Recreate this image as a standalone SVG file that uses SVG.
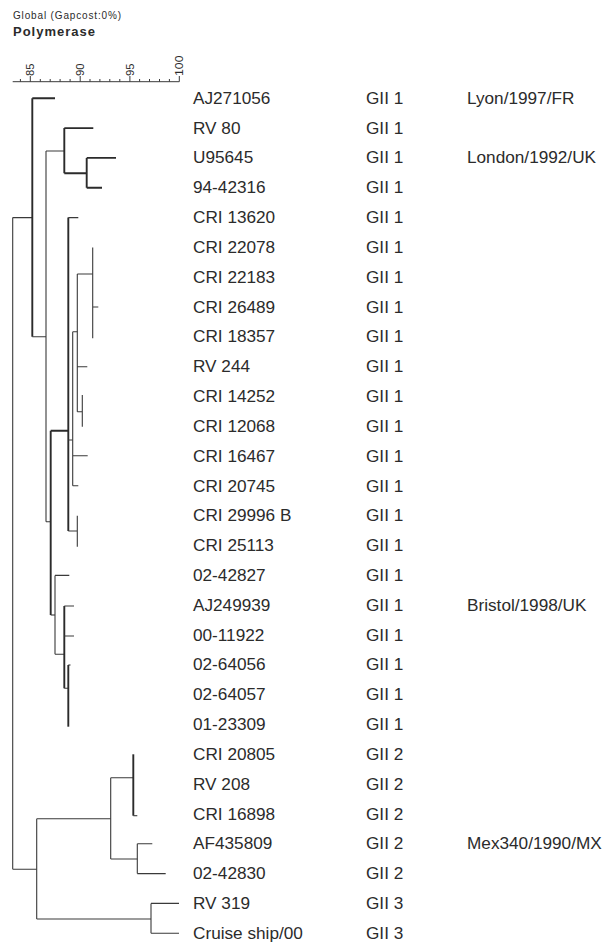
<svg xmlns="http://www.w3.org/2000/svg" width="610" height="946" viewBox="0 0 610 946">
<style>
text{font-family:"Liberation Sans",Arial,sans-serif;fill:#2b2b2b}
.lb{font-size:17.2px}
.hd{font-size:10px}
.ttl{font-size:13px;font-weight:bold}
.ax{font-size:10px}
.t{stroke:#2b2b2b;stroke-width:1.9;fill:none}
.n{stroke:#3a3a3a;stroke-width:1.1;fill:none}
.tk{stroke:#3a3a3a;stroke-width:1;fill:none}
</style>
<rect width="610" height="946" fill="#fff"/>
<g id="header">
<text class="hd" x="13" y="19" textLength="108" lengthAdjust="spacing">Global (Gapcost:0%)</text>
<text class="ttl" x="13" y="36" textLength="82" lengthAdjust="spacing">Polymerase</text>
</g>
<g id="scale">
<path class="tk" d="M12.7 81.7H179.3"/>
<path class="tk" d="M20.4 79V81.7M40.3 79V81.7M50.2 79V81.7M60.1 79V81.7M70.1 79V81.7M90 79V81.7M99.9 79V81.7M109.8 79V81.7M119.8 79V81.7M139.6 79V81.7M149.5 79V81.7M159.5 79V81.7M169.4 79V81.7"/>
<path class="tk" d="M30.3 76V81.7M80.2 76V81.7M129.9 76V81.7M179.3 76V81.7"/>
<text class="ax" transform="translate(34.2 76) rotate(-90)" textLength="12.5" lengthAdjust="spacingAndGlyphs">85</text>
<text class="ax" transform="translate(83.5 76) rotate(-90)" textLength="12.5" lengthAdjust="spacingAndGlyphs">90</text>
<text class="ax" transform="translate(133.5 76) rotate(-90)" textLength="12.5" lengthAdjust="spacingAndGlyphs">95</text>
<text class="ax" transform="translate(183.3 76) rotate(-90)" textLength="20.5" lengthAdjust="spacingAndGlyphs">100</text>
</g>
<g id="connectors">
<path class="n" d="M12.7 217.6V869.3M12.7 217.6H32.3M12.7 869.3H36.7"/>
<path class="t" d="M32.3 98.3V336.7M32.3 98.3H55"/>
<path class="n" d="M32.3 336.7H46M46 151V521.7M46 151H64.3M46 521.7H50.7"/>
<path class="t" d="M64.3 128.1V173.3M64.3 128.1H93.3M64.3 173.3H86.7M86.7 157.9V187.8M86.7 157.9H116M86.7 187.8H102"/>
<path class="t" d="M50.7 430.7V615M50.7 430.7H68.3M68.3 217.6V531"/>
<path class="n" d="M50.7 615H55"/>
<path class="n" d="M68.3 217.6H78.3M68.3 440H72.7M68.3 531H77.3M77.3 515.8V546.7"/>
<path class="n" d="M72.7 331.7V485.7M72.7 331.7H77.3M72.7 455.7H87.7M72.7 485.7H78.3"/>
<path class="n" d="M77.3 274V411.7M77.3 274H92.7M77.3 366.7H87.3M77.3 411.7H82.3M82.3 395V426.7"/>
<path class="n" d="M92.7 247.4V338.3M92.7 307H98.3"/>
<path class="n" d="M55 575.4V654.3M55 575.4H69.3M55 654.3H64.3"/>
<path class="t" d="M64.3 606V688.3"/>
<path class="n" d="M64.3 606H74M64.3 636H74M64.3 688.3H68.3"/>
<path class="t" d="M68.3 665V726.7"/>
<path class="n" d="M68.3 665H70.5"/>
<path class="n" d="M36.7 818.7V919M36.7 818.7H110.7M36.7 919H151"/>
<path class="n" d="M110.7 777.7V859M110.7 777.7H133.3M110.7 859H137.3"/>
<path class="t" d="M133.3 754.3V815.7"/>
<path class="n" d="M133.3 815.7H137.3"/>
<path class="n" d="M137.3 843.8V873.6M137.3 843.8H152.3M137.3 873.6H165.7"/>
<path class="n" d="M151 903.4V933.3M151 903.4H179M151 933.3H179"/>
</g>
<g id="leaf-AJ271056"><text class="lb" x="193" y="103.8">AJ271056</text><text class="lb" x="366" y="103.8">GII 1</text><text class="lb" x="467" y="103.8">Lyon/1997/FR</text></g>
<g id="leaf-RV80"><text class="lb" x="193" y="133.6">RV 80</text><text class="lb" x="366" y="133.6">GII 1</text></g>
<g id="leaf-U95645"><text class="lb" x="193" y="163.4">U95645</text><text class="lb" x="366" y="163.4">GII 1</text><text class="lb" x="467" y="163.4">London/1992/UK</text></g>
<g id="leaf-94-42316"><text class="lb" x="193" y="193.3">94-42316</text><text class="lb" x="366" y="193.3">GII 1</text></g>
<g id="leaf-CRI13620"><text class="lb" x="193" y="223.1">CRI 13620</text><text class="lb" x="366" y="223.1">GII 1</text></g>
<g id="leaf-CRI22078"><text class="lb" x="193" y="252.9">CRI 22078</text><text class="lb" x="366" y="252.9">GII 1</text></g>
<g id="leaf-CRI22183"><text class="lb" x="193" y="282.7">CRI 22183</text><text class="lb" x="366" y="282.7">GII 1</text></g>
<g id="leaf-CRI26489"><text class="lb" x="193" y="312.5">CRI 26489</text><text class="lb" x="366" y="312.5">GII 1</text></g>
<g id="leaf-CRI18357"><text class="lb" x="193" y="342.4">CRI 18357</text><text class="lb" x="366" y="342.4">GII 1</text></g>
<g id="leaf-RV244"><text class="lb" x="193" y="372.2">RV 244</text><text class="lb" x="366" y="372.2">GII 1</text></g>
<g id="leaf-CRI14252"><text class="lb" x="193" y="402">CRI 14252</text><text class="lb" x="366" y="402">GII 1</text></g>
<g id="leaf-CRI12068"><text class="lb" x="193" y="431.8">CRI 12068</text><text class="lb" x="366" y="431.8">GII 1</text></g>
<g id="leaf-CRI16467"><text class="lb" x="193" y="461.6">CRI 16467</text><text class="lb" x="366" y="461.6">GII 1</text></g>
<g id="leaf-CRI20745"><text class="lb" x="193" y="491.5">CRI 20745</text><text class="lb" x="366" y="491.5">GII 1</text></g>
<g id="leaf-CRI29996B"><text class="lb" x="193" y="521.3">CRI 29996 B</text><text class="lb" x="366" y="521.3">GII 1</text></g>
<g id="leaf-CRI25113"><text class="lb" x="193" y="551.1">CRI 25113</text><text class="lb" x="366" y="551.1">GII 1</text></g>
<g id="leaf-02-42827"><text class="lb" x="193" y="580.9">02-42827</text><text class="lb" x="366" y="580.9">GII 1</text></g>
<g id="leaf-AJ249939"><text class="lb" x="193" y="610.7">AJ249939</text><text class="lb" x="366" y="610.7">GII 1</text><text class="lb" x="467" y="610.7">Bristol/1998/UK</text></g>
<g id="leaf-00-11922"><text class="lb" x="193" y="640.6">00-11922</text><text class="lb" x="366" y="640.6">GII 1</text></g>
<g id="leaf-02-64056"><text class="lb" x="193" y="670.4">02-64056</text><text class="lb" x="366" y="670.4">GII 1</text></g>
<g id="leaf-02-64057"><text class="lb" x="193" y="700.2">02-64057</text><text class="lb" x="366" y="700.2">GII 1</text></g>
<g id="leaf-01-23309"><text class="lb" x="193" y="730">01-23309</text><text class="lb" x="366" y="730">GII 1</text></g>
<g id="leaf-CRI20805"><text class="lb" x="193" y="759.8">CRI 20805</text><text class="lb" x="366" y="759.8">GII 2</text></g>
<g id="leaf-RV208"><text class="lb" x="193" y="789.7">RV 208</text><text class="lb" x="366" y="789.7">GII 2</text></g>
<g id="leaf-CRI16898"><text class="lb" x="193" y="819.5">CRI 16898</text><text class="lb" x="366" y="819.5">GII 2</text></g>
<g id="leaf-AF435809"><text class="lb" x="193" y="849.3">AF435809</text><text class="lb" x="366" y="849.3">GII 2</text><text class="lb" x="467" y="849.3">Mex340/1990/MX</text></g>
<g id="leaf-02-42830"><text class="lb" x="193" y="879.1">02-42830</text><text class="lb" x="366" y="879.1">GII 2</text></g>
<g id="leaf-RV319"><text class="lb" x="193" y="908.9">RV 319</text><text class="lb" x="366" y="908.9">GII 3</text></g>
<g id="leaf-Cruiseship00"><text class="lb" x="193" y="938.8">Cruise ship/00</text><text class="lb" x="366" y="938.8">GII 3</text></g>
</svg>
